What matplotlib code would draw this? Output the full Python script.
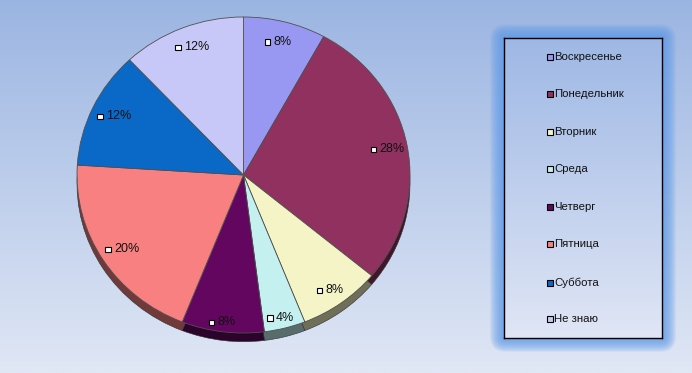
import numpy as np
import matplotlib
matplotlib.use("Agg")
import matplotlib.pyplot as plt
from matplotlib.patches import Rectangle, FancyBboxPatch
from matplotlib.colors import to_rgb

categories = ["Воскресенье", "Понедельник", "Вторник", "Среда",
              "Четверг", "Пятница", "Суббота", "Не знаю"]
values = [8, 28, 8, 4, 8, 20, 12, 12]
colors = ["#9898F2", "#91315F", "#F4F4C6", "#C4F0F0",
          "#62065F", "#F88080", "#0A69C6", "#C8C8F8"]

plt.rcParams['font.family'] = ['Liberation Sans', 'DejaVu Sans']

W, H = 692, 373
fig = plt.figure(figsize=(W / 100, H / 100), dpi=100)

# background gradient
bg = fig.add_axes([0, 0, 1, 1])
bg.set_xlim(0, W)
bg.set_ylim(H, 0)
bg.axis('off')
top = np.array([155, 181, 226]) / 255
bot = np.array([224, 231, 245]) / 255
t = np.linspace(0, 1, 256)[:, None]
grad = (top[None, :] * (1 - t) + bot[None, :] * t)[:, None, :]
bg.imshow(np.repeat(grad, 2, axis=1), extent=[0, W, H, 0], aspect='auto', zorder=0)

# legend glow
lx0, ly0, lx1, ly1 = 504, 38, 662, 338
for i in range(14, 0, -1):
    bg.add_patch(FancyBboxPatch((lx0 - i, ly0 - i), (lx1 - lx0) + 2 * i, (ly1 - ly0) + 2 * i,
                                boxstyle="round,pad=0,rounding_size=%d" % (i + 2),
                                fc="#5E9BE8", ec='none', alpha=0.10, zorder=1))

# legend box
leg = fig.add_axes([lx0 / W, 1 - ly1 / H, (lx1 - lx0) / W, (ly1 - ly0) / H])
leg.set_xlim(0, lx1 - lx0)
leg.set_ylim(ly1 - ly0, 0)
ltop = np.array([158, 184, 229]) / 255
lbot = np.array([224, 230, 245]) / 255
lgrad = (ltop[None, :] * (1 - t) + lbot[None, :] * t)[:, None, :]
leg.imshow(np.repeat(lgrad, 2, axis=1), extent=[0, lx1 - lx0, ly1 - ly0, 0], aspect='auto')
leg.set_xticks([])
leg.set_yticks([])
for s in leg.spines.values():
    s.set_color('black')
    s.set_linewidth(1.0)
rows = [19, 56, 94, 131, 169, 206, 245, 281]
for cat, col, ry in zip(categories, colors, rows):
    leg.add_patch(Rectangle((43, ry - 3), 6, 6, fc=col, ec='black', lw=0.8))
    leg.text(50, ry, cat, fontsize=8.2, va='center', ha='left', color='#111111')

# pie
pax = fig.add_axes([77 / W, 1 - 333 / H, 333 / W, 316 / H])

dark = [tuple(np.array(to_rgb(c)) * 0.45) for c in colors]
pax.pie(values, colors=dark, startangle=90, counterclock=False, center=(0, -0.055),
        radius=1.0, wedgeprops=dict(edgecolor='#303030', linewidth=0.4), frame=True)
wedges, _ = pax.pie(values, colors=colors, startangle=90, counterclock=False,
                    radius=1.0, wedgeprops=dict(edgecolor='#505050', linewidth=0.6), frame=True)
pax.set_aspect('auto')
pax.set_xlim(-1, 1)
pax.set_ylim(-1, 1)
pax.axis('off')

px = 2 / 333
py = 2 / 316
for w, v in zip(wedges, values):
    ang = np.deg2rad((w.theta1 + w.theta2) / 2)
    s = np.sin(ang)
    r = 0.87 + 0.07 * max(0.0, -s) ** 4
    cx, cy = r * np.cos(ang), r * s
    pax.add_patch(Rectangle((cx - 15 * px, cy - 3 * py), 5.5 * px, 5.5 * py,
                            fc='white', ec='black', lw=0.8, zorder=5))
    pax.text(cx - 6.5 * px, cy, f"{v}%", fontsize=9, va='center', ha='left',
             color='#111111', zorder=6)

fig.savefig("out.png", dpi=100)
